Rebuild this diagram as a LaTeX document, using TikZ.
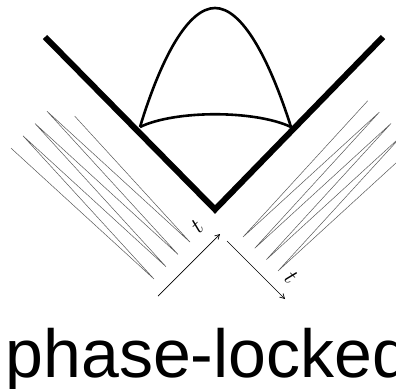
\documentclass[tikz,border=0pt]{standalone}
\usepackage{fontspec}
\setmainfont{Liberation Sans}
\usetikzlibrary{calc,arrows.meta}
\begin{document}
\begin{tikzpicture}[x=1pt,y=-1pt,
  vline/.style={line width=6pt,line join=miter,line cap=butt},
  bell/.style={line width=2.6pt},
  pulse/.style={line width=0.5pt,draw=black!65,line join=miter},
  axis/.style={line width=0.7pt,-{Straight Barb[length=4.5pt,width=5pt]}},
  tlabel/.style={inner sep=0pt}]
\useasboundingbox (0,0) rectangle (396,388);
\clip (0,0) rectangle (396,388);
% V
\coordinate (vl) at (45,37);
\coordinate (va) at (215,209.5);
\coordinate (vr) at (383,37);
\draw[vline] (vl) -- (va) -- (vr);
% bell
\coordinate (fl) at (140,127);
\coordinate (fr) at (291,127);
\coordinate (pk) at (215,8);
\draw[bell] (fl) .. controls (161,58) and (188,8) .. (pk)
  .. controls (242,8) and (269,58) .. (fr);
\draw[bell] (fl) .. controls (175,110) and (255,110) .. (fr);
% left pulses
\coordinate (lb1) at (154,279);
\coordinate (lb2) at (166,266.7);
\coordinate (lb3) at (178,254.4);
\coordinate (lb4) at (190,242.1);
\coordinate (lt0) at (11,148.15);
\coordinate (lt1) at (23,135.85);
\coordinate (lt2) at (35,123.55);
\coordinate (lt3) at (47,111.25);
\coordinate (lt4) at (59,98.95);
\draw[pulse] (lt0) -- (lb1) -- (lt1) -- (lb2) -- (lt2) -- (lb3) -- (lt3) -- (lb4) -- ($(lb4)!0.88!(lt4)$);
% right pulses
\coordinate (rb1) at (243,237);
\coordinate (rb2) at (254.7,248.3);
\coordinate (rb3) at (266.4,259.6);
\coordinate (rb4) at (278.1,270.9);
\coordinate (rt0) at (367.65,100.85);
\coordinate (rt1) at (379.35,112.15);
\coordinate (rt2) at (391.05,123.45);
\coordinate (rt3) at (402.75,134.75);
\coordinate (rt4) at (414.45,146.05);
\draw[pulse] (rt0) -- (rb1) -- (rt1) -- (rb2) -- (rt2) -- (rb3) -- (rt3) -- (rb4) -- ($(rb4)!0.88!(rt4)$);
% time axes
\coordinate (a1s) at (158,296);
\coordinate (a1e) at (220,234);
\coordinate (a2s) at (227,241);
\coordinate (a2e) at (285,299);
\draw[axis] (a1s) -- (a1e);
\draw[axis] (a2s) -- (a2e);
\node[tlabel,rotate=45] (tl) at (197,227) {\scalebox{2.3}{$t$}};
\node[tlabel,rotate=-45] (tr) at (291,277) {\scalebox{2.3}{$t$}};
% title
\node[anchor=base west,inner sep=0pt,font=\fontsize{68}{80}\selectfont] (title) at (5.5,377) {phase-locked};
\end{tikzpicture}
\end{document}
